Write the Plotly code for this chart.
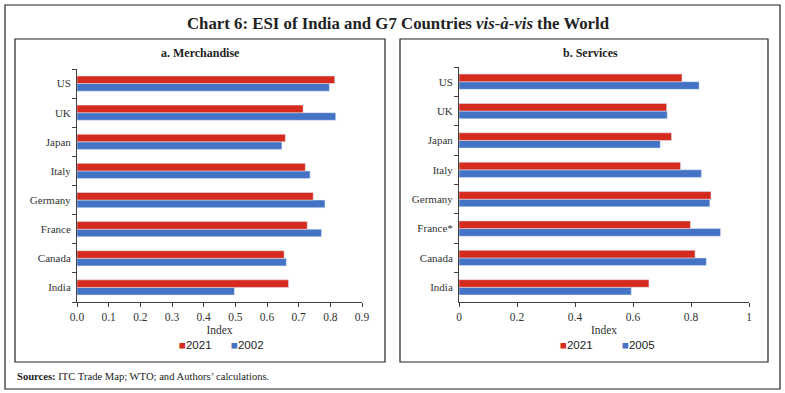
import plotly.graph_objects as go

W, H = 785, 393

countries_m = ["India", "Canada", "France", "Germany", "Italy", "Japan", "UK", "US"]
merch_2021 = [0.668, 0.654, 0.727, 0.746, 0.721, 0.658, 0.714, 0.814]
merch_2002 = [0.497, 0.661, 0.772, 0.783, 0.736, 0.647, 0.817, 0.797]

countries_s = ["India", "Canada", "France*", "Germany", "Italy", "Japan", "UK", "US"]
serv_2021 = [0.655, 0.814, 0.798, 0.869, 0.764, 0.733, 0.716, 0.769]
serv_2005 = [0.594, 0.853, 0.902, 0.865, 0.836, 0.694, 0.718, 0.828]

RED = "#d52b1e"
BLUE = "#4472c4"
SERIF = "Liberation Serif, DejaVu Serif, serif"
SANS = "Liberation Sans, Arial, sans-serif"
AX = "#404040"


def px(x):
    return x / W


def py(y):
    return 1 - y / H


fig = go.Figure()

fig.add_trace(go.Bar(y=countries_m, x=merch_2002, orientation="h", name="2002",
                     marker=dict(color=BLUE), xaxis="x", yaxis="y"))
fig.add_trace(go.Bar(y=countries_m, x=merch_2021, orientation="h", name="2021",
                     marker=dict(color=RED), xaxis="x", yaxis="y"))
fig.add_trace(go.Bar(y=countries_s, x=serv_2005, orientation="h", name="2005",
                     marker=dict(color=BLUE), xaxis="x2", yaxis="y2"))
fig.add_trace(go.Bar(y=countries_s, x=serv_2021, orientation="h", name="2021",
                     marker=dict(color=RED), xaxis="x2", yaxis="y2"))

xcommon = dict(showgrid=False, zeroline=False, showline=True, linecolor=AX, linewidth=1,
               ticks="outside", ticklen=4, tickcolor=AX, automargin=False,
               tickfont=dict(family=SERIF, size=11.5, color="#333"),
               title=dict(text="Index", font=dict(family=SERIF, size=11.5, color="#333"), standoff=4))
ycommon = dict(showgrid=False, zeroline=False, showline=True, linecolor=AX, linewidth=1,
               ticks="outside", ticklen=4, tickcolor=AX, tickson="boundaries", automargin=False,
               ticklabelstandoff=3,
               tickfont=dict(family=SERIF, size=11, color="#333"), type="category")

fig.update_layout(
    width=W, height=H,
    margin=dict(l=0, r=0, t=0, b=0),
    paper_bgcolor="white", plot_bgcolor="white",
    barmode="group", bargap=0.48, bargroupgap=0,
    showlegend=False,
    xaxis=dict(domain=[px(77), px(362)], range=[0, 0.9], dtick=0.1, tickformat=".1f",
               anchor="y", **xcommon),
    yaxis=dict(domain=[py(302), py(69)], anchor="x",
               categoryorder="array", categoryarray=countries_m, **ycommon),
    xaxis2=dict(domain=[px(459), px(749)], range=[0, 1], dtick=0.2, anchor="y2", **xcommon),
    yaxis2=dict(domain=[py(302), py(67)], anchor="x2",
                categoryorder="array", categoryarray=countries_s, **ycommon),
)

shapes = [
    dict(type="rect", xref="paper", yref="paper", x0=px(5), x1=px(780), y0=py(389), y1=py(5),
         line=dict(color="#222", width=1.2)),
    dict(type="rect", xref="paper", yref="paper", x0=px(15), x1=px(385), y0=py(362), y1=py(39),
         line=dict(color="#222", width=1.2)),
    dict(type="rect", xref="paper", yref="paper", x0=px(400), x1=px(768), y0=py(362), y1=py(39),
         line=dict(color="#222", width=1.2)),
]
fig.update_layout(shapes=shapes)

fig.add_annotation(text="<b>Chart 6: ESI of India and G7 Countries <i>vis-à-vis</i> the World</b>",
                   xref="paper", yref="paper", x=px(398), y=py(23), xanchor="center", yanchor="middle",
                   showarrow=False, font=dict(family=SERIF, size=16.8, color="#222"))
fig.add_annotation(text="<b>a. Merchandise</b>", xref="paper", yref="paper", x=px(200), y=py(53),
                   xanchor="center", yanchor="middle", showarrow=False,
                   font=dict(family=SERIF, size=12, color="#222"))
fig.add_annotation(text="<b>b. Services</b>", xref="paper", yref="paper", x=px(590), y=py(53),
                   xanchor="center", yanchor="middle", showarrow=False,
                   font=dict(family=SERIF, size=12, color="#222"))
fig.add_annotation(text="<b>Sources:</b> ITC Trade Map; WTO; and Authors’ calculations.",
                   xref="paper", yref="paper", x=px(15), y=py(376), xanchor="left", yanchor="middle",
                   showarrow=False, font=dict(family=SERIF, size=10.6, color="#222"))

# legends (per panel)
legend_items = [
    (px(177), "2021", RED), (px(229), "2002", BLUE),
    (px(558), "2021", RED), (px(620), "2005", BLUE),
]
for x, label, col in legend_items:
    fig.add_annotation(text=f"<span style='color:{col}'>■</span>{label}",
                       xref="paper", yref="paper", x=x, y=py(345), xanchor="left",
                       yanchor="middle", showarrow=False,
                       font=dict(family=SANS, size=11.5, color="#222"))

fig.write_html("out.html", config={"displayModeBar": False},
               post_script="document.body.style.margin='0';document.body.style.overflow='hidden';")
